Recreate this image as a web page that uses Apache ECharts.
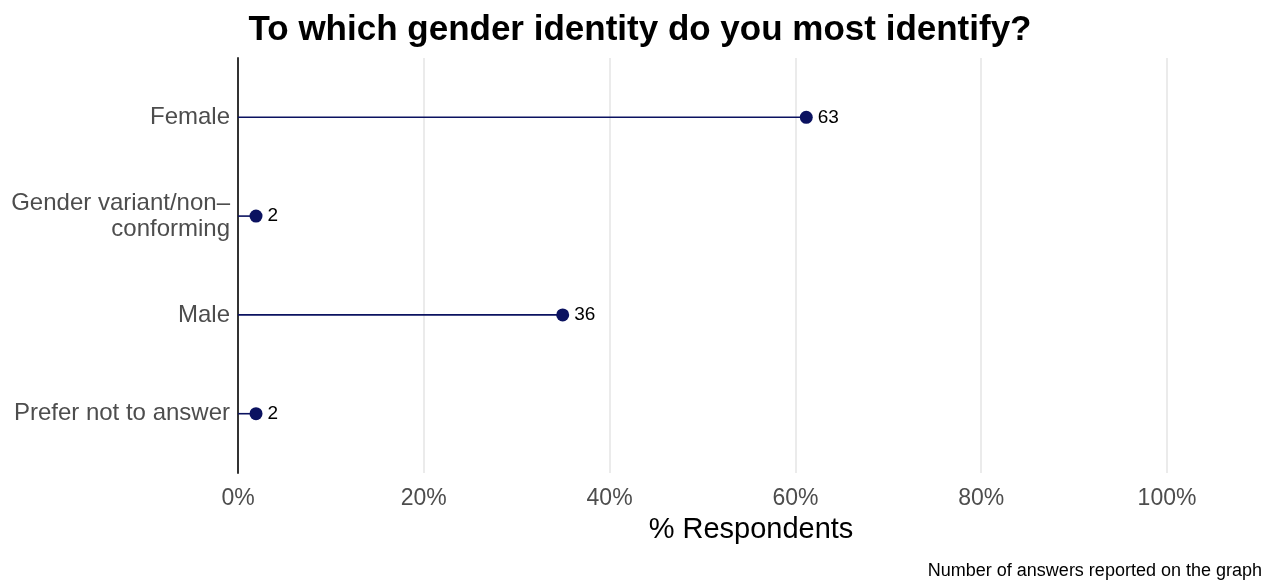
<!DOCTYPE html>
<html>
<head>
<meta charset="utf-8">
<script src="https://cdn.jsdelivr.net/npm/echarts@6/dist/echarts.min.js"></script>
<style>html,body{margin:0;padding:0;background:#fff}#c{width:1272px;height:584px}</style>
</head>
<body>
<div id="c"></div>
<script>
const categories = ['Female', 'Gender variant/non–\nconforming', 'Male', 'Prefer not to answer'];
const counts = [63, 2, 36, 2];
const percents = [61.17, 1.94, 34.95, 1.94];
const xTicks = [0, 20, 40, 60, 80, 100];

const navy = '#0b1260';
const pos = categories.map((c, i) => i + 1);
const pts = percents.map((p, i) => [p, pos[i], counts[i]]);

const chart = echarts.init(document.getElementById('c'));
chart.setOption({
  animation: false,
  textStyle: { fontFamily: 'Liberation Sans, Arial, sans-serif' },
  title: [
    { text: 'To which gender identity do you most identify?', left: 635, top: 8, textAlign: 'center',
      textStyle: { fontSize: 35, fontWeight: 'bold', color: '#000', fontFamily: 'Liberation Sans' } },
    { text: 'Number of answers reported on the graph', right: 5, top: 557,
      textStyle: { fontSize: 18, fontWeight: 'normal', color: '#000', fontFamily: 'Liberation Sans' } },
    { text: '% Respondents', left: 746, top: 510, textAlign: 'center',
      textStyle: { fontSize: 29, fontWeight: 'normal', color: '#000', fontFamily: 'Liberation Sans' } }
  ],
  grid: { left: 238, right: 105, top: 58, bottom: 111 },
  xAxis: {
    type: 'value', min: 0, max: 100, interval: 20,
    axisLine: { show: false }, axisTick: { show: false },
    axisLabel: { formatter: v => v + '%', fontSize: 23, color: '#4d4d4d', margin: 14, fontFamily: 'Liberation Sans' },
    splitLine: { show: true, lineStyle: { color: '#ebebeb', width: 2 } }
  },
  yAxis: {
    type: 'value', inverse: true, min: 0.4, max: 4.6,
    axisLine: { show: true, lineStyle: { color: '#333', width: 2 } },
    axisTick: { show: false },
    axisLabel: { customValues: pos, formatter: v => categories[Math.round(v) - 1], fontSize: 24, color: '#4d4d4d',
      margin: 8, align: 'right', lineHeight: 26, fontFamily: 'Liberation Sans' },
    splitLine: { show: false }
  },
  series: [
    {
      type: 'custom',
      data: pts,
      renderItem: (params, api) => {
        const a = api.coord([0, api.value(1)]);
        const b = api.coord([api.value(0), api.value(1)]);
        return { type: 'line', shape: { x1: a[0], y1: a[1], x2: b[0], y2: b[1] },
          style: { stroke: navy, lineWidth: 1.6 } };
      },
      z: 2
    },
    {
      type: 'scatter',
      data: pts,
      symbolSize: 13,
      itemStyle: { color: navy, opacity: 1 },
      label: { show: true, position: 'right', distance: 5, formatter: p => p.value[2],
        fontSize: 19, color: '#000', fontFamily: 'Liberation Sans' },
      z: 3
    }
  ]
});
</script>
</body>
</html>
